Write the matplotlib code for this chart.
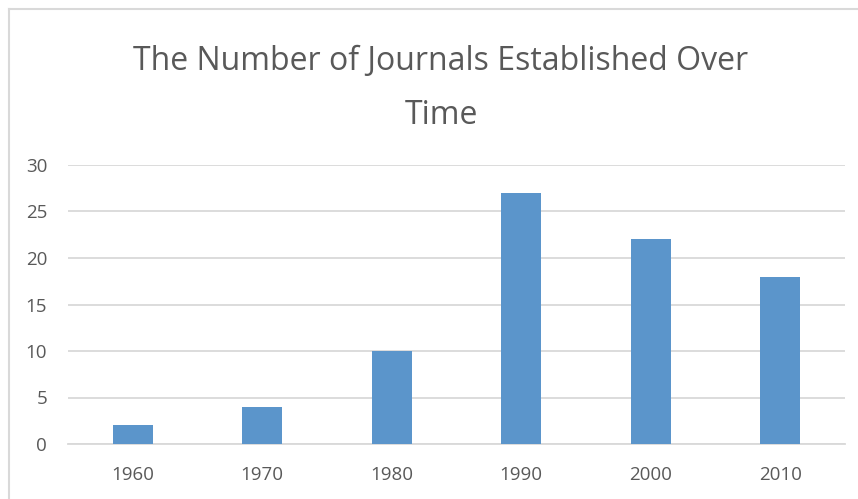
import matplotlib.pyplot as plt
from matplotlib.lines import Line2D

years = ['1960', '1970', '1980', '1990', '2000', '2010']
journals = [2, 4, 10, 27, 22, 18]
yticks = [0, 5, 10, 15, 20, 25, 30]

plt.rcParams['font.family'] = ['Open Sans', 'DejaVu Sans']

fig = plt.figure(figsize=(8.58, 4.99), dpi=100)
ax = fig.add_axes([68 / 858, 1 - 444 / 499, (845 - 68) / 858, (444 - 165) / 499])

x = range(len(years))
ax.bar(x, journals, width=0.31, color='#5b95cb', zorder=3)

ax.set_xlim(-0.5, len(years) - 0.5)
ax.set_ylim(0, 30)
ax.set_yticks(yticks)
ax.set_xticks(list(x))
ax.set_xticklabels(years)
ax.grid(axis='y', color='#d9d9d9', linewidth=1.3, zorder=0)
for s in ['top', 'right', 'left']:
    ax.spines[s].set_visible(False)
ax.spines['bottom'].set_color('#d9d9d9')
ax.spines['bottom'].set_linewidth(1.3)
ax.tick_params(axis='both', length=0, labelsize=13.5, labelcolor='#595959')
ax.tick_params(axis='y', pad=15)
ax.tick_params(axis='x', pad=16)

fig.text(0.514, 1 - 61 / 499, 'The Number of Journals Established Over',
         ha='center', va='center', fontsize=23, color='#595959')
fig.text(0.514, 1 - 115 / 499, 'Time',
         ha='center', va='center', fontsize=23, color='#595959')

# chart border (left and top visible in the crop)
fig.add_artist(Line2D([9 / 858, 9 / 858], [0, 1 - 9 / 499], color='#d9d9d9', linewidth=1.5))
fig.add_artist(Line2D([9 / 858, 1], [1 - 9 / 499, 1 - 9 / 499], color='#d9d9d9', linewidth=1.5))

plt.savefig('out.png')
